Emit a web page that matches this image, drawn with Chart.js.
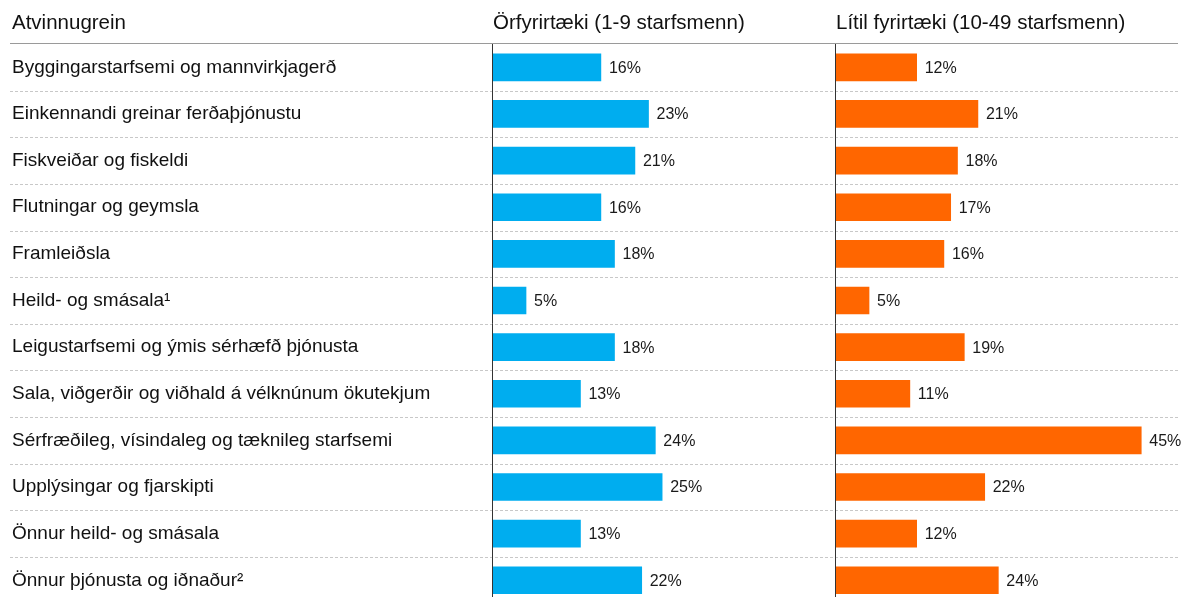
<!DOCTYPE html>
<html>
<head>
<meta charset="utf-8">
<script src="https://cdn.jsdelivr.net/npm/chart.js@4.4.1/dist/chart.umd.min.js"></script>
<style>
  body { margin: 0; background: #fff; overflow: hidden; }
</style>
</head>
<body>
<canvas id="chart" width="1187" height="618"></canvas>
<script>
// Data
const categories = [
    "Byggingarstarfsemi og mannvirkjagerð",
    "Einkennandi greinar ferðaþjónustu",
    "Fiskveiðar og fiskeldi",
    "Flutningar og geymsla",
    "Framleiðsla",
    "Heild- og smásala¹",
    "Leigustarfsemi og ýmis sérhæfð þjónusta",
    "Sala, viðgerðir og viðhald á vélknúnum ökutekjum",
    "Sérfræðileg, vísindaleg og tæknileg starfsemi",
    "Upplýsingar og fjarskipti",
    "Önnur heild- og smásala",
    "Önnur þjónusta og iðnaður²"
];
const micro = [16, 23, 21, 16, 18, 5, 18, 13, 24, 25, 13, 22];
const small = [12, 21, 18, 17, 16, 5, 19, 11, 45, 22, 12, 24];
const headers = ["Atvinnugrein", "Örfyrirtæki (1-9 starfsmenn)", "Lítil fyrirtæki (10-49 starfsmenn)"];

const FONT = "'Liberation Sans', Arial, Helvetica, sans-serif";

// draws header, row separators, axis lines and value labels
const tablePlugin = {
    id: "tablePlugin",
    beforeDatasetsDraw(chart) {
        const ctx = chart.ctx;
        const area = chart.chartArea;
        const y = chart.scales.y;
        ctx.save();
        // dashed separators between rows
        ctx.strokeStyle = "#c8c8c8";
        ctx.lineWidth = 1;
        ctx.setLineDash([3, 2]);
        for (let i = 1; i < categories.length; i++) {
            const py = Math.round((y.getPixelForTick(i - 1) + y.getPixelForTick(i)) / 2) + 0.5;
            ctx.beginPath();
            ctx.moveTo(10, py);
            ctx.lineTo(area.right, py);
            ctx.stroke();
        }
        ctx.setLineDash([]);
        // header line
        ctx.strokeStyle = "#9a9a9a";
        ctx.beginPath();
        ctx.moveTo(10, area.top - 0.5);
        ctx.lineTo(area.right, area.top - 0.5);
        ctx.stroke();
        // header texts
        ctx.fillStyle = "#111";
        ctx.font = "20.5px " + FONT;
        ctx.textBaseline = "middle";
        ctx.textAlign = "left";
        ctx.fillText(headers[0], 12, 23);
        ctx.fillText(headers[1], chart.scales.x1.getPixelForValue(0) + 1, 23);
        ctx.fillText(headers[2], chart.scales.x2.getPixelForValue(0) + 1, 23);
        ctx.restore();
    },
    afterDatasetsDraw(chart) {
        const ctx = chart.ctx;
        const area = chart.chartArea;
        ctx.save();
        // vertical axis lines
        ctx.strokeStyle = "#333";
        ctx.lineWidth = 1;
        ["x1", "x2"].forEach((id) => {
            const px = Math.round(chart.scales[id].getPixelForValue(0)) + 0.5;
            ctx.beginPath();
            ctx.moveTo(px, area.top);
            ctx.lineTo(px, area.bottom);
            ctx.stroke();
        });
        // value labels
        ctx.fillStyle = "#1a1a1a";
        ctx.font = "16px " + FONT;
        ctx.textBaseline = "middle";
        ctx.textAlign = "left";
        chart.data.datasets.forEach((ds, di) => {
            chart.getDatasetMeta(di).data.forEach((bar, i) => {
                ctx.fillText(ds.data[i] + "%", bar.x + 8, bar.y + 1);
            });
        });
        ctx.restore();
    }
};

const chart = new Chart(document.getElementById("chart"), {
    type: "bar",
    data: {
        labels: categories,
        datasets: [
            {
                label: headers[1],
                data: micro,
                xAxisID: "x1",
                backgroundColor: "#00adef",
                grouped: false,
                barThickness: 27
            },
            {
                label: headers[2],
                data: small,
                xAxisID: "x2",
                backgroundColor: "#ff6600",
                grouped: false,
                barThickness: 27
            }
        ]
    },
    options: {
        indexAxis: "y",
        responsive: false,
        animation: false,
        layout: { padding: { left: 12, top: 44, right: 9, bottom: 0 } },
        plugins: {
            legend: { display: false },
            tooltip: { enabled: false }
        },
        scales: {
            y: {
                grid: { display: false },
                border: { display: false },
                afterFit: (scale) => { scale.width = 480; },
                ticks: {
                    crossAlign: "far",
                    color: "#111",
                    font: { family: FONT, size: 19 }
                }
            },
            x1: {
                position: "bottom",
                stack: "cols",
                stackWeight: 1,
                min: 0,
                max: 50.4,
                display: false
            },
            x2: {
                position: "bottom",
                stack: "cols",
                stackWeight: 1,
                min: 0,
                max: 50.4,
                display: false
            }
        }
    },
    plugins: [tablePlugin]
});
</script>
</body>
</html>
